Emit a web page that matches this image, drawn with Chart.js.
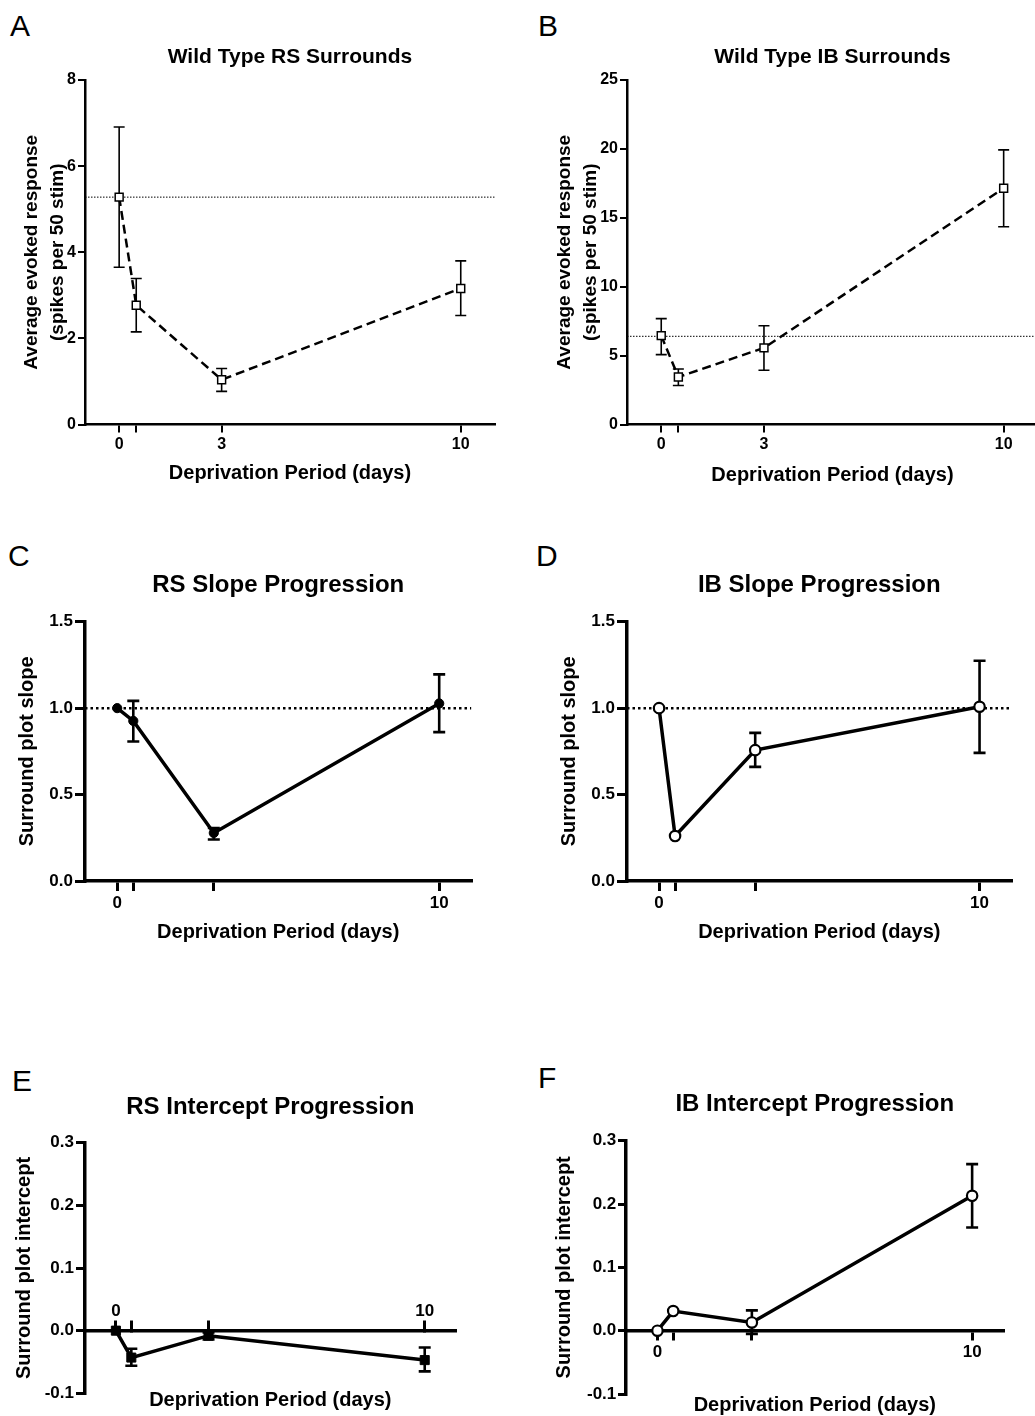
<!DOCTYPE html>
<html><head><meta charset="utf-8">
<script src="https://cdn.jsdelivr.net/npm/chart.js@4.4.1/dist/chart.umd.min.js"></script>
<style>
html,body{margin:0;padding:0;background:#fff;}
#page{position:relative;width:1035px;height:1416px;overflow:hidden;background:#fff;}
#page canvas{position:absolute;}
.letter{position:absolute;font-family:'Liberation Sans',Arial,Helvetica,sans-serif;font-size:30px;line-height:30px;color:#000;}
</style></head><body><div id="page">
<div class="letter" style="left:10px;top:11px">A</div>
<div class="letter" style="left:538px;top:11px">B</div>
<div class="letter" style="left:8px;top:541px">C</div>
<div class="letter" style="left:536px;top:541px">D</div>
<div class="letter" style="left:12px;top:1066px">E</div>
<div class="letter" style="left:538px;top:1063px">F</div>
</div>
<script>
// ---------------- data ----------------
const days = [0, 0.5, 3, 10];
const xTickValues = [0, 0.5, 3, 10];
const xTickLabelsAB = ['0', '', '3', '10'];
const xTickLabelsCF = ['0', '', '', '10'];

// A: Wild Type RS Surrounds
const rsResponseMean = [5.28, 2.77, 1.04, 3.16];
const rsResponseHigh = [6.91, 3.39, 1.30, 3.80];
const rsResponseLow  = [3.65, 2.15, 0.77, 2.53];
const rsResponseBaseline = 5.28;

// B: Wild Type IB Surrounds
const ibResponseMean = [6.45, 3.45, 5.56, 17.15];
const ibResponseHigh = [7.68, 4.03, 7.17, 19.93];
const ibResponseLow  = [5.07, 2.83, 3.94, 14.35];
const ibResponseBaseline = 6.4;

// C: RS Slope Progression
const rsSlopeMean = [1.0, 0.926, 0.278, 1.027];
const rsSlopeHigh = [null, 1.042, 0.307, 1.195];
const rsSlopeLow  = [null, 0.807, 0.240, 0.861];

// D: IB Slope Progression
const ibSlopeMean = [1.0, 0.26, 0.757, 1.008];
const ibSlopeHigh = [null, null, 0.857, 1.274];
const ibSlopeLow  = [null, null, 0.660, 0.741];

const slopeBaseline = 1.0;

// E: RS Intercept Progression
const rsInterceptMean = [0.0, -0.043, -0.008, -0.047];
const rsInterceptHigh = [null, -0.029, -0.003, -0.027];
const rsInterceptLow  = [null, -0.056, -0.014, -0.065];

// F: IB Intercept Progression
const ibInterceptMean = [0.0, 0.031, 0.013, 0.213];
const ibInterceptHigh = [null, null, 0.032, 0.263];
const ibInterceptLow  = [null, null, -0.005, 0.163];

const yTicksA = {min: 0, max: 8, step: 2};
const yTicksB = {min: 0, max: 25, step: 5};
const yTicksSlope = {min: 0, max: 1.5, step: 0.5};
const yTicksIntercept = {min: -0.1, max: 0.3, step: 0.1};
const xRange = {min: -1, max: 11};

// ---------------- rendering ----------------
Chart.defaults.font.family = "'Liberation Sans', Arial, Helvetica, sans-serif";
Chart.defaults.color = '#000';

const errorBarPlugin = {
  id: 'errorBars',
  beforeDatasetsDraw(chart) {
    const {ctx} = chart;
    const xs = chart.scales.x, ys = chart.scales.y;
    chart.data.datasets.forEach(ds => {
      if (!ds.errHigh) return;
      ctx.save();
      ctx.strokeStyle = '#000';
      ctx.lineWidth = ds.errWidth;
      ctx.lineCap = 'butt';
      ds.data.forEach((pt, i) => {
        const hi = ds.errHigh[i], lo = ds.errLow[i];
        if (hi == null || lo == null) return;
        const px = xs.getPixelForValue(pt.x);
        const yh = ys.getPixelForValue(hi), yl = ys.getPixelForValue(lo);
        const cw = ds.errCap;
        ctx.beginPath();
        ctx.moveTo(px, yh); ctx.lineTo(px, yl);
        ctx.moveTo(px - cw, yh); ctx.lineTo(px + cw, yh);
        ctx.moveTo(px - cw, yl); ctx.lineTo(px + cw, yl);
        ctx.stroke();
      });
      ctx.restore();
    });
  }
};

function makePanel(p) {
  const page = document.getElementById('page');
  const canvas = document.createElement('canvas');
  const St = p.titleSize, Sx = p.xTitleSize, Sy = p.yTitleSize, lhY = p.yTitleLH;
  const CL = p.canvasLeft;
  const Wy = p.L - CL;
  const q = p.yTitleX - CL - lhY * Sy / 2;
  const CT = Math.floor(p.titleY - 0.6 * St);
  const a = p.titleY - 0.6 * St - CT;
  const b = p.T - CT - a - 1.2 * St;
  const pixel0 = p.T + (p.yr.max - 0) / (p.yr.max - p.yr.min) * (p.B - p.T);
  let Hx, CB, padB;
  if (p.xAtZero) {
    // axis placed at y = 0: it reserves no layout space, its height only places the title
    Hx = p.xTitleY - pixel0 + 0.6 * Sx;
    CB = Math.ceil(p.xTitleY + 0.6 * Sx + 1);
    padB = CB - p.B;
  } else {
    Hx = p.xTitleY + 0.6 * Sx - p.B;
    const scaleBottom = p.B + Hx;
    CB = Math.ceil(scaleBottom);
    padB = CB - scaleBottom;
  }
  const CR = Math.ceil(p.R) + 4;
  const padR = CR - p.R;
  canvas.width = CR - CL;
  canvas.height = CB - CT;
  canvas.style.left = CL + 'px';
  canvas.style.top = CT + 'px';
  canvas.style.width = (CR - CL) + 'px';
  canvas.style.height = (CB - CT) + 'px';
  page.appendChild(canvas);

  const datasets = [{
    data: days.map((d, i) => ({x: d, y: p.mean[i]})),
    borderColor: '#000',
    borderWidth: p.lineW,
    borderDash: p.dash || [],
    tension: 0,
    fill: false,
    pointStyle: p.pointStyle,
    pointRadius: p.pointR,
    pointBackgroundColor: p.pointFill,
    pointBorderColor: '#000',
    pointBorderWidth: p.pointBW,
    order: 1,
    errHigh: p.high, errLow: p.low, errWidth: p.errW, errCap: p.errCap
  }];
  if (p.baseline != null) {
    datasets.push({
      data: [{x: xRange.min, y: p.baseline}, {x: xRange.max, y: p.baseline}],
      borderColor: p.refColor,
      borderWidth: p.refW,
      borderDash: p.refDash,
      pointRadius: 0,
      fill: false,
      order: 2
    });
  }
  const fmt = p.yDecimals ? (v => Number(v).toFixed(p.yDecimals)) : (v => String(Math.round(v)));
  new Chart(canvas, {
    type: 'line',
    data: {datasets},
    options: {
      responsive: false,
      animation: false,
      events: [],
      devicePixelRatio: 1,
      layout: {padding: {left: 0, top: 0, right: padR, bottom: padB}},
      plugins: {
        legend: {display: false},
        tooltip: {enabled: false},
        title: {display: true, text: p.title, fullSize: false, color: '#000',
          font: {size: St, weight: 'bold', lineHeight: 1.2}, padding: {top: a, bottom: b}}
      },
      scales: {
        x: {
          type: 'linear', min: xRange.min, max: xRange.max,
          position: p.xAtZero ? {y: 0} : 'bottom',
          border: {display: true, color: '#000', width: p.axisW},
          grid: {drawOnChartArea: false, drawTicks: true, tickLength: p.xTl, color: '#000',
                 lineWidth: p.tickW, tickWidth: p.tickW, tickColor: '#000'},
          ticks: {autoSkip: false, maxRotation: 0, minRotation: 0, padding: p.xTp, color: '#000',
                  font: {size: p.tickSize, weight: 'bold'},
                  callback: (v, i) => p.xLabels[i]},
          afterBuildTicks: s => { s.ticks = xTickValues.map(v => ({value: v})); },
          afterFit: s => { s.height = Hx; },
          title: {display: true, text: 'Deprivation Period (days)', color: '#000',
                  font: {size: Sx, weight: 'bold', lineHeight: 1.2}, padding: {top: 0, bottom: 0}}
        },
        y: {
          type: 'linear', min: p.yr.min, max: p.yr.max, position: 'left',
          border: {display: true, color: '#000', width: p.axisW},
          grid: {drawOnChartArea: false, drawTicks: true, tickLength: p.yTl, color: '#000',
                 lineWidth: p.tickW, tickWidth: p.tickW, tickColor: '#000'},
          ticks: {stepSize: p.yr.step, padding: p.yTp, color: '#000',
                  font: {size: p.tickSize, weight: 'bold'}, callback: v => fmt(v)},
          afterFit: s => { s.width = Wy; },
          title: {display: true, text: p.yTitle, color: '#000',
                  font: {size: Sy, weight: 'bold', lineHeight: lhY}, padding: {top: q, bottom: 0}}
        }
      }
    },
    plugins: [errorBarPlugin]
  });
}

const styleAB = {
  titleSize: 21, yTitleSize: 19, yTitleLH: 1.37, xTitleSize: 20, tickSize: 16,
  xTl: 8, xTp: 2, yTl: 7, yTp: 2, axisW: 2.5, tickW: 2,
  lineW: 2.5, dash: [9, 5], pointStyle: 'rect', pointR: 5.6, pointFill: '#fff', pointBW: 1.5,
  errW: 1.6, errCap: 5.5, refColor: '#000', refW: 1, refDash: [1.5, 1.5],
  xLabels: xTickLabelsAB, yTitle: ['Average evoked response', '(spikes per 50 stim)']
};
const styleCF = {
  titleSize: 24, yTitleSize: 20, yTitleLH: 1.2, xTitleSize: 20, tickSize: 17,
  xTl: 10, xTp: 2, yTl: 10, yTp: 2, axisW: 3.5, tickW: 3,
  lineW: 3.5, errW: 2.6, errCap: 6, refColor: '#000', refW: 2.5, refDash: [2.5, 3],
  xLabels: xTickLabelsCF, yDecimals: 1
};

makePanel(Object.assign({}, styleAB, {
  canvasLeft: 0, L: 85, R: 497.5, T: 80, B: 424.5, yr: yTicksA,
  title: 'Wild Type RS Surrounds', titleY: 57, yTitleX: 32, xTitleY: 473.5,
  mean: rsResponseMean, high: rsResponseHigh, low: rsResponseLow, baseline: rsResponseBaseline
}));
makePanel(Object.assign({}, styleAB, {
  canvasLeft: 517, L: 627, R: 1040.5, T: 80, B: 424.5, yr: yTicksB,
  title: 'Wild Type IB Surrounds', titleY: 57, yTitleX: 564.5, xTitleY: 475,
  mean: ibResponseMean, high: ibResponseHigh, low: ibResponseLow, baseline: ibResponseBaseline
}));
makePanel(Object.assign({}, styleCF, {
  canvasLeft: 0, L: 85, R: 472.3, T: 621.7, B: 881, yr: yTicksSlope,
  title: 'RS Slope Progression', titleY: 585, yTitle: 'Surround plot slope', yTitleX: 27.5, xTitleY: 932,
  pointStyle: 'circle', pointR: 4.6, pointFill: '#000', pointBW: 1,
  mean: rsSlopeMean, high: rsSlopeHigh, low: rsSlopeLow, baseline: slopeBaseline
}));
makePanel(Object.assign({}, styleCF, {
  canvasLeft: 517, L: 627, R: 1014.3, T: 621.7, B: 881, yr: yTicksSlope,
  title: 'IB Slope Progression', titleY: 585, yTitle: 'Surround plot slope', yTitleX: 569.5, xTitleY: 932,
  pointStyle: 'circle', pointR: 5.2, pointFill: '#fff', pointBW: 2.2,
  mean: ibSlopeMean, high: ibSlopeHigh, low: ibSlopeLow, baseline: slopeBaseline
}));
makePanel(Object.assign({}, styleCF, {
  canvasLeft: 0, L: 85, R: 459, T: 1142.7, B: 1393.3, yr: yTicksIntercept,
  title: 'RS Intercept Progression', titleY: 1107.5, yTitle: 'Surround plot intercept', yTitleX: 24.2, xTitleY: 1400.8,
  xAtZero: true, xTl: -12, xTp: -17.2, yTl: 9, yTp: 2,
  pointStyle: 'rect', pointR: 6.4, pointFill: '#000', pointBW: 1,
  mean: rsInterceptMean, high: rsInterceptHigh, low: rsInterceptLow, baseline: null
}));
makePanel(Object.assign({}, styleCF, {
  canvasLeft: 517, L: 626, R: 1006.3, T: 1140.7, B: 1394, yr: yTicksIntercept,
  title: 'IB Intercept Progression', titleY: 1104, yTitle: 'Surround plot intercept', yTitleX: 564.5, xTitleY: 1405.8,
  xAtZero: true, xTl: 8, xTp: 3.6, yTl: 8, yTp: 1.7,
  pointStyle: 'circle', pointR: 5.2, pointFill: '#fff', pointBW: 2.2,
  mean: ibInterceptMean, high: ibInterceptHigh, low: ibInterceptLow, baseline: null
}));
</script>
</body></html>
